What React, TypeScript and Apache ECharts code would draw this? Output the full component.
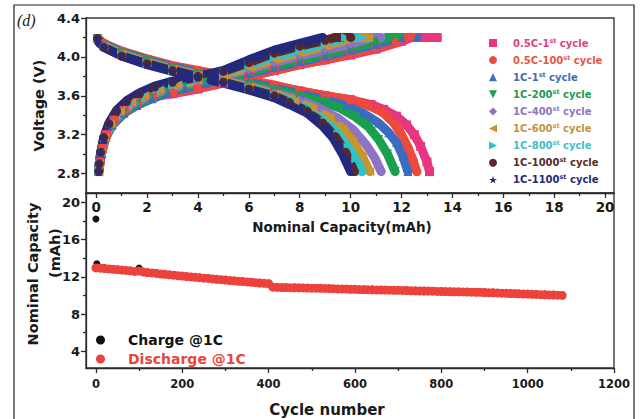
import { useEffect, useRef } from "react";
import * as echarts from "echarts";

const FONT = '"DejaVu Sans", "Liberation Sans", sans-serif';

// ---------- top panel: voltage profiles ----------
const cycleNames = [
  "0.5C-1st cycle",
  "0.5C-100st cycle",
  "1C-1st cycle",
  "1C-200st cycle",
  "1C-400st cycle",
  "1C-600st cycle",
  "1C-800st cycle",
  "1C-1000st cycle",
  "1C-1100st cycle",
];
const cycleColors = ["#e8357f", "#ee4a3b", "#3a6cc0", "#18a04e", "#8d72c6", "#c9942c", "#2ec3ca", "#58282a", "#232a7e"];
const cycleTextColors = ["#e0407e", "#e8563f", "#3c6db0", "#1f9a52", "#8a76c0", "#c3923a", "#3cc0c8", "#5a2a2a", "#262a78"];
const DOWN = "path://M0,0 L10,0 L5,10 Z";
const LEFT = "path://M10,0 L10,10 L0,5 Z";
const RIGHT = "path://M0,0 L10,5 L0,10 Z";
const STAR = "path://M5,0 L6.2,3.6 L10,3.6 L6.9,5.9 L8.1,9.5 L5,7.3 L1.9,9.5 L3.1,5.9 L0,3.6 L3.8,3.6 Z";
const cycleSymbols = ["rect", "circle", "triangle", DOWN, "diamond", LEFT, RIGHT, "circle", STAR];

// charge curves [capacity mAh, voltage V]
const charge05C1 = [[0.1,2.82],[0.15,2.92],[0.25,3.06],[0.4,3.2],[0.7,3.35],[1.1,3.45],[1.6,3.53],[2.2,3.59],[3,3.62],[4,3.67],[5,3.73],[6,3.8],[7,3.86],[8,3.92],[9,3.97],[10,4.02],[11,4.08],[12,4.16],[12.4,4.2],[13.4,4.2]];
const charge05C100 = [[0.1,2.82],[0.15,2.92],[0.25,3.06],[0.4,3.2],[0.7,3.35],[1.1,3.45],[1.6,3.53],[2.2,3.59],[3,3.63],[4,3.68],[5,3.74],[6,3.8],[7,3.86],[8,3.92],[9,3.97],[10,4.03],[11,4.09],[11.8,4.15],[12.2,4.2],[12.5,4.2]];
const charge1C1 = [[0.1,2.82],[0.14,2.9],[0.22,3.02],[0.38,3.17],[0.64,3.3],[1.1,3.42],[1.6,3.5],[2.2,3.57],[2.8,3.63],[3.5,3.68],[4.3,3.73],[5,3.77],[6,3.83],[7,3.89],[8,3.95],[9,4.01],[10,4.07],[11,4.13],[12,4.2],[12.6,4.2]];
const charge1C200 = [[0.1,2.82],[0.14,2.9],[0.22,3.02],[0.37,3.17],[0.62,3.3],[1.05,3.42],[1.6,3.51],[2.1,3.58],[2.7,3.64],[3.4,3.69],[4.2,3.74],[5,3.79],[6,3.85],[7,3.91],[8,3.97],[9,4.03],[10,4.09],[11,4.16],[11.5,4.2],[11.9,4.2]];
const charge1C400 = [[0.1,2.82],[0.13,2.9],[0.21,3.02],[0.35,3.17],[0.6,3.31],[1,3.43],[1.5,3.52],[2,3.59],[2.6,3.65],[3.3,3.7],[4,3.75],[5,3.81],[6,3.87],[7,3.94],[8,4.01],[9,4.07],[10,4.13],[10.8,4.2],[11.2,4.2]];
const charge1C600 = [[0.1,2.82],[0.13,2.9],[0.2,3.02],[0.34,3.17],[0.57,3.31],[0.95,3.44],[1.4,3.53],[1.9,3.6],[2.5,3.66],[3.2,3.71],[4,3.76],[5,3.82],[6,3.89],[7,3.97],[8,4.04],[9,4.11],[9.8,4.17],[10.3,4.2],[10.7,4.2]];
const charge1C800 = [[0.1,2.82],[0.13,2.9],[0.2,3.02],[0.33,3.17],[0.55,3.31],[0.9,3.44],[1.3,3.53],[1.8,3.61],[2.4,3.67],[3,3.72],[4,3.78],[5,3.84],[6,3.92],[7,4.0],[8,4.07],[9,4.14],[9.8,4.2],[10.4,4.2]];
const charge1C1000 = [[0.1,2.82],[0.12,2.9],[0.18,3.02],[0.3,3.17],[0.5,3.31],[0.8,3.44],[1.2,3.54],[1.7,3.62],[2.3,3.69],[3,3.74],[4,3.79],[5,3.85],[6,3.94],[7,4.04],[8,4.11],[9,4.17],[9.4,4.2],[10.0,4.2]];
const charge1C1100 = [[0.1,2.82],[0.12,2.9],[0.18,3.02],[0.3,3.17],[0.5,3.32],[0.8,3.45],[1.2,3.55],[1.7,3.63],[2.3,3.7],[3,3.75],[4,3.8],[5,3.86],[6,3.97],[7,4.07],[8,4.14],[8.9,4.2]];

// discharge curves [capacity mAh, voltage V]
const discharge05C1 = [[0.05,4.19],[0.3,4.13],[1,4.05],[2,3.97],[3,3.9],[4,3.84],[5,3.79],[6,3.75],[7,3.7],[8,3.65],[9,3.6],[10,3.56],[10.8,3.51],[11.3,3.46],[11.8,3.39],[12.2,3.3],[12.5,3.2],[12.75,3.08],[13.0,2.92],[13.1,2.82]];
const discharge05C100 = [[0.05,4.19],[0.3,4.14],[1,4.06],[2,3.98],[3,3.91],[4,3.86],[5,3.81],[6,3.76],[7,3.71],[8,3.65],[9,3.6],[10,3.56],[10.7,3.5],[11.25,3.43],[11.7,3.32],[12.0,3.2],[12.25,3.07],[12.45,2.94],[12.6,2.82]];
const discharge1C1 = [[0.05,4.19],[0.3,4.13],[1,4.05],[2,3.97],[3,3.9],[4,3.84],[5,3.79],[6,3.74],[7,3.68],[8,3.62],[9,3.56],[9.8,3.5],[10.5,3.42],[11.1,3.32],[11.5,3.22],[11.8,3.12],[12.05,2.98],[12.25,2.82]];
const discharge1C200 = [[0.05,4.19],[0.3,4.12],[1,4.04],[2,3.96],[3,3.89],[4,3.83],[5,3.78],[6,3.72],[7,3.66],[8,3.6],[9,3.53],[9.6,3.47],[10.2,3.38],[10.7,3.28],[11.1,3.15],[11.45,3.0],[11.75,2.82]];
const discharge1C400 = [[0.05,4.19],[0.3,4.12],[1,4.03],[2,3.95],[3,3.88],[4,3.82],[5,3.76],[6,3.7],[7,3.63],[8,3.56],[8.8,3.47],[9.5,3.37],[10.1,3.25],[10.6,3.1],[10.95,2.96],[11.2,2.82]];
const discharge1C600 = [[0.05,4.19],[0.3,4.11],[1,4.03],[2,3.94],[3,3.87],[4,3.81],[5,3.75],[6,3.69],[7,3.62],[7.8,3.55],[8.5,3.47],[9.2,3.37],[9.7,3.26],[10.1,3.13],[10.45,2.98],[10.75,2.82]];
const discharge1C800 = [[0.05,4.19],[0.3,4.11],[1,4.02],[2,3.93],[3,3.86],[4,3.8],[5,3.74],[6,3.68],[7,3.61],[7.7,3.54],[8.4,3.45],[9,3.34],[9.5,3.21],[9.9,3.07],[10.2,2.95],[10.45,2.82]];
const discharge1C1000 = [[0.05,4.19],[0.3,4.1],[1,4.01],[2,3.93],[3,3.86],[4,3.8],[5,3.74],[6,3.67],[7,3.6],[7.6,3.53],[8.3,3.44],[8.9,3.32],[9.4,3.18],[9.8,3.02],[10.15,2.82]];
const discharge1C1100 = [[0.05,4.19],[0.1,4.15],[0.3,4.1],[1,4.01],[2,3.92],[3,3.85],[4,3.79],[5,3.73],[6,3.66],[7,3.58],[7.6,3.51],[8.3,3.42],[8.9,3.29],[9.3,3.17],[9.7,2.99],[10.0,2.82]];

const chargeCurves = [charge05C1, charge05C100, charge1C1, charge1C200, charge1C400, charge1C600, charge1C800, charge1C1000, charge1C1100];
const dischargeCurves = [discharge05C1, discharge05C100, discharge1C1, discharge1C200, discharge1C400, discharge1C600, discharge1C800, discharge1C1000, discharge1C1100];

const capMajorTicks = [0, 2, 4, 6, 8, 10, 12, 14, 16, 18, 20];
const capMinorTicks = [1, 3, 5, 7, 9, 11, 13, 15, 17, 19];
const voltMajorTicks = [2.8, 3.2, 3.6, 4.0, 4.4];
const voltMinorTicks = [3.0, 3.4, 3.8, 4.2];

// ---------- bottom panel: capacity vs cycle ----------
const CYCLE_STEP = 10;
const dischargeCapacity = [
  12.95,12.92,12.89,12.84,12.8,12.77,12.72,12.68,12.64,12.58,
  12.62,12.5,12.45,12.41,12.36,12.3,12.26,12.21,12.17,12.12,
  12.07,12.03,11.98,11.94,11.9,11.85,11.82,11.77,11.73,11.69,
  11.65,11.6,11.57,11.52,11.49,11.45,11.41,11.37,11.33,11.3,
  11.26,
  10.88,10.86,10.85,10.84,10.83,10.82,10.81,10.8,10.79,10.78,
  10.77,10.76,10.75,10.73,10.72,10.7,10.69,10.68,10.66,10.65,
  10.63,10.62,10.61,10.6,10.59,10.58,10.57,10.56,10.55,10.54,
  10.53,10.52,10.5,10.49,10.48,10.47,10.46,10.45,10.43,10.42,
  10.41,10.4,10.39,10.38,10.37,10.36,10.35,10.34,10.33,10.31,
  10.29,10.28,10.26,10.24,10.22,10.2,10.19,10.17,10.15,10.14,
  10.12,10.1,10.08,10.07,10.05,10.04,10.02,10.0,
];
const chargeEarlyCycles = [0, 2, 100];
const chargeEarlyCapacity = [18.2, 13.4, 12.95];
const CHARGE_STEP = 20;
const chargeCapacity = [
  12.96,12.87,12.79,12.7,12.68,12.52,12.43,12.33,12.24,12.14,
  12.05,11.97,11.89,11.8,11.72,11.63,11.56,11.48,11.4,11.32,
  10.93,10.91,10.89,10.87,10.85,10.83,10.8,10.77,10.75,10.72,
  10.69,10.67,10.65,10.63,10.61,10.59,10.56,10.54,10.52,10.49,
  10.47,10.45,10.43,10.41,10.38,10.35,10.31,10.27,10.24,10.21,
  10.17,10.14,10.11,10.07,
];
const cycleMajorTicks = [0, 200, 400, 600, 800, 1000, 1200];
const cycleMinorTicks = [100, 300, 500, 700, 900, 1100];
const capYMajorTicks = [4, 8, 12, 16, 20];
const capYMinorTicks = [6, 10, 14, 18];

export default function App() {
  const ref = useRef<HTMLDivElement>(null);
  useEffect(() => {
    if (!ref.current) return;
    const chart = echarts.init(ref.current, null, { renderer: "svg" });
    const lineCol = { color: "#2b2b2b", width: 1.3 };
    const labelBase = { fontFamily: FONT, fontWeight: "bold", color: "#1a1a1a" };

    const topSeries: any[] = [];
    cycleNames.forEach((name, i) => {
      [chargeCurves[i], dischargeCurves[i]].forEach((data) => {
        topSeries.push({
          type: "line",
          name,
          xAxisIndex: 0,
          yAxisIndex: 0,
          data,
          symbol: cycleSymbols[i],
          symbolSize: 9,
          showSymbol: true,
          showAllSymbol: true,
          silent: true,
          lineStyle: { width: 9, color: cycleColors[i], cap: "round", join: "round" },
          itemStyle: { color: cycleColors[i], borderWidth: 0, opacity: 1 },
        });
      });
    });

    const chargePoints = [
      ...chargeEarlyCycles.map((c, i) => [c, chargeEarlyCapacity[i]]),
      ...chargeCapacity.map((v, i) => [(i + 1) * CHARGE_STEP, v]),
    ];
    const dischargePoints = dischargeCapacity.map((v, i) => [i * CYCLE_STEP, v]);

    const option: any = {
      animation: false,
      backgroundColor: "#ffffff",
      grid: [
        { left: 86, top: 18, width: 528, height: 175, show: true, borderColor: "#3a3a3a", borderWidth: 1.4 },
        { left: 86, top: 193, width: 528, height: 175, show: true, borderColor: "#3a3a3a", borderWidth: 1.4 },
      ],
      xAxis: [
        {
          type: "value", gridIndex: 0, min: -0.4, max: 20.35, position: "bottom",
          axisLine: { show: true, onZero: false, lineStyle: lineCol },
          axisTick: { show: true, length: 5, customValues: capMajorTicks, lineStyle: lineCol },
          axisLabel: { show: true, customValues: capMajorTicks, margin: 7, fontSize: 13.5, ...labelBase,
            formatter: (v: number) => String(v) },
          splitLine: { show: false },
          name: "Nominal Capacity(mAh)", nameLocation: "middle", nameGap: 27,
          nameTextStyle: { fontSize: 13.5, ...labelBase, padding: [0, 16, 0, 0] },
        },
        {
          type: "value", gridIndex: 0, min: -0.4, max: 20.35, position: "bottom",
          axisLine: { show: false, onZero: false },
          axisTick: { show: true, length: 3, customValues: capMinorTicks, lineStyle: lineCol },
          axisLabel: { show: false }, splitLine: { show: false },
        },
        {
          type: "value", gridIndex: 1, min: -23, max: 1200, position: "bottom",
          axisLine: { show: true, onZero: false, lineStyle: lineCol },
          axisTick: { show: true, length: 5, customValues: cycleMajorTicks, lineStyle: lineCol },
          axisLabel: { show: true, customValues: cycleMajorTicks, margin: 10, fontSize: 11.5, ...labelBase,
            formatter: (v: number) => String(v) },
          splitLine: { show: false },
          name: "Cycle number", nameLocation: "middle", nameGap: 34,
          nameTextStyle: { fontSize: 15, ...labelBase, padding: [0, 46, 0, 0] },
        },
        {
          type: "value", gridIndex: 1, min: -23, max: 1200, position: "bottom",
          axisLine: { show: false, onZero: false },
          axisTick: { show: true, length: 3, customValues: cycleMinorTicks, lineStyle: lineCol },
          axisLabel: { show: false }, splitLine: { show: false },
        },
      ],
      yAxis: [
        {
          type: "value", gridIndex: 0, min: 2.6, max: 4.4, position: "left",
          axisLine: { show: true, onZero: false, lineStyle: lineCol },
          axisTick: { show: true, length: 5, customValues: voltMajorTicks, lineStyle: lineCol },
          axisLabel: { show: true, customValues: voltMajorTicks, margin: 6, fontSize: 13, ...labelBase,
            formatter: (v: number) => v.toFixed(1) },
          splitLine: { show: false },
          name: "Voltage (V)", nameLocation: "middle", nameGap: 38,
          nameTextStyle: { fontSize: 14.5, ...labelBase },
        },
        {
          type: "value", gridIndex: 0, min: 2.6, max: 4.4, position: "left",
          axisLine: { show: false, onZero: false },
          axisTick: { show: true, length: 3, customValues: voltMinorTicks, lineStyle: lineCol },
          axisLabel: { show: false }, splitLine: { show: false },
        },
        {
          type: "value", gridIndex: 1, min: 2.2, max: 21, position: "left",
          axisLine: { show: true, onZero: false, lineStyle: lineCol },
          axisTick: { show: true, length: 5, customValues: capYMajorTicks, lineStyle: lineCol },
          axisLabel: { show: true, customValues: capYMajorTicks, margin: 6, fontSize: 13, ...labelBase,
            formatter: (v: number) => String(v) },
          splitLine: { show: false },
        },
        {
          type: "value", gridIndex: 1, min: 2.2, max: 21, position: "left",
          axisLine: { show: false, onZero: false },
          axisTick: { show: true, length: 3, customValues: capYMinorTicks, lineStyle: lineCol },
          axisLabel: { show: false }, splitLine: { show: false },
        },
      ],
      legend: [
        {
          orient: "vertical", left: 489, top: 37, itemWidth: 8, itemHeight: 8, itemGap: 5.1,
          padding: 0, selectedMode: false,
          data: cycleNames.map((name, i) => ({ name, icon: cycleSymbols[i], textStyle: { color: cycleTextColors[i] } })),
          formatter: (n: string) => n.replace(/st cycle$/, "{sup|st} cycle"),
          textStyle: {
            fontFamily: FONT, fontWeight: "bold", fontSize: 10, lineHeight: 12, padding: [0, 0, 0, 11],
            rich: { sup: { fontFamily: FONT, fontWeight: "bold", fontSize: 6.5, lineHeight: 7, verticalAlign: "top" } },
          },
        },
        {
          orient: "vertical", left: 96, top: 333, itemWidth: 9, itemHeight: 9, itemGap: 5,
          padding: 0, selectedMode: false,
          data: [
            { name: "Charge @1C", icon: "circle", textStyle: { color: "#111111" } },
            { name: "Discharge @1C", icon: "circle", textStyle: { color: "#e8453d" } },
          ],
          textStyle: { fontFamily: FONT, fontWeight: "bold", fontSize: 14, lineHeight: 14, padding: [0, 0, 0, 18] },
        },
      ],
      graphic: [
        { type: "rect", shape: { x: 14, y: 5, width: 620, height: 440 }, style: { fill: "none", stroke: "#222", lineWidth: 1.2 }, silent: true },
        { type: "text", x: 17, y: 20, style: { text: "(d)", fontFamily: '"Liberation Serif", serif', fontStyle: "italic", fontSize: 16, fill: "#222", verticalAlign: "middle" } },
        { type: "text", x: 33, y: 274, rotation: Math.PI / 2, style: { text: "Nominal Capacity", fontFamily: FONT, fontWeight: "bold", fontSize: 14.5, fill: "#1a1a1a", align: "center", verticalAlign: "middle" } },
        { type: "text", x: 55, y: 253, rotation: Math.PI / 2, style: { text: "(mAh)", fontFamily: FONT, fontWeight: "bold", fontSize: 14.5, fill: "#1a1a1a", align: "center", verticalAlign: "middle" } },
      ],
      series: [
        ...topSeries,
        {
          type: "scatter", name: "Charge @1C", xAxisIndex: 2, yAxisIndex: 2, data: chargePoints,
          symbol: "circle", symbolSize: 7, silent: true, itemStyle: { color: "#111111", opacity: 1 },
        },
        {
          type: "scatter", name: "Discharge @1C", xAxisIndex: 2, yAxisIndex: 2, data: dischargePoints,
          symbol: "circle", symbolSize: 9, silent: true, itemStyle: { color: "#ec423b", opacity: 1 },
        },
      ],
    };
    chart.setOption(option);
    return () => chart.dispose();
  }, []);
  return <div ref={ref} style={{ position: "fixed", left: 0, top: 0, width: 643, height: 419 }} />;
}
